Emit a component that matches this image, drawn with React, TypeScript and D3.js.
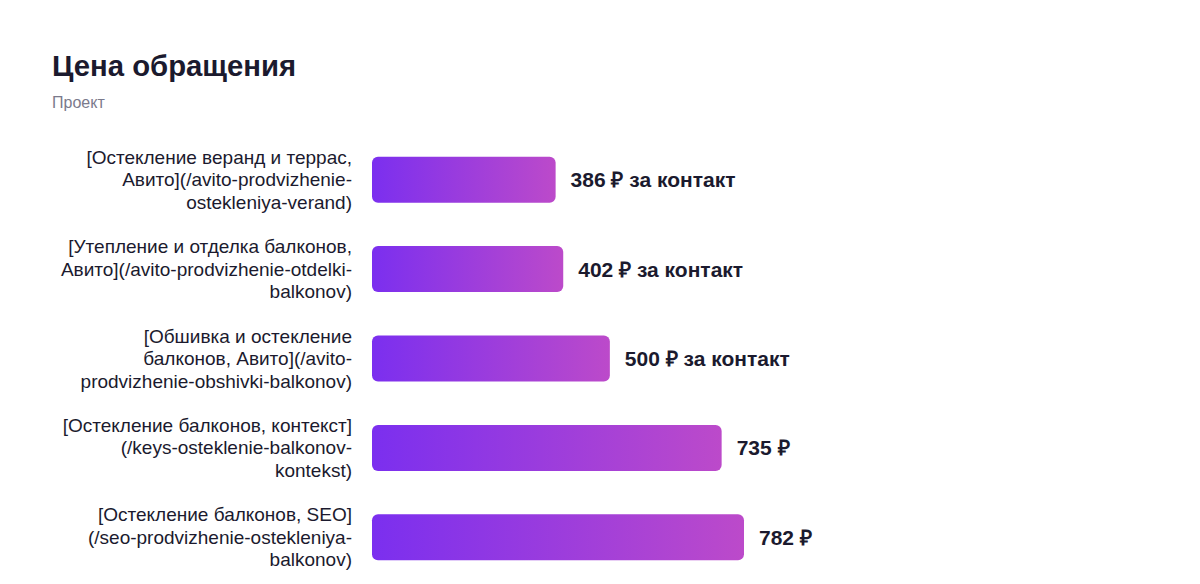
import React from "react";
import * as d3 from "d3";

const titleText = "Цена обращения";
const subtitleText = "Проект";

const categoryLines: string[][] = [
  ["[Остекление веранд и террас,", "Авито](/avito-prodvizhenie-", "ostekleniya-verand)"],
  ["[Утепление и отделка балконов,", "Авито](/avito-prodvizhenie-otdelki-", "balkonov)"],
  ["[Обшивка и остекление", "балконов, Авито](/avito-", "prodvizhenie-obshivki-balkonov)"],
  ["[Остекление балконов, контекст]", "(/keys-osteklenie-balkonov-", "kontekst)"],
  ["[Остекление балконов, SEO]", "(/seo-prodvizhenie-ostekleniya-", "balkonov)"],
];
const values: number[] = [386, 402, 500, 735, 782];
const valueSuffixes: string[] = [" ₽ за контакт", " ₽ за контакт", " ₽ за контакт", " ₽", " ₽"];

const W = 1200;
const H = 584;
const FONT = "'Liberation Sans', Arial, Helvetica, sans-serif";

export default function App() {
  const ids = values.map((_, i) => i);
  const x = d3.scaleLinear().domain([0, d3.max(values) as number]).range([372, 744]);
  const y = d3
    .scaleBand<number>()
    .domain(ids)
    .range([135, 582])
    .paddingInner(0.485)
    .paddingOuter(0.2425);
  const bw = y.bandwidth();

  return (
    <svg
      width={W}
      height={H}
      style={{ position: "absolute", left: 0, top: 0, background: "#fff" }}
      fontFamily={FONT}
    >
      <defs>
        <linearGradient id="barGrad" x1="0" y1="0" x2="1" y2="0">
          <stop offset="0%" stopColor="#7B2FEF" />
          <stop offset="100%" stopColor="#BC4ACA" />
        </linearGradient>
      </defs>
      <rect x={0} y={0} width={W} height={H} fill="#fff" />
      <text x={52} y={76} fontSize={29.3} fontWeight={700} fill="#1b1a2e">
        {titleText}
      </text>
      <text x={52} y={108} fontSize={16} fill="#7b7a8c">
        {subtitleText}
      </text>
      {ids.map((i) => {
        const top = y(i) as number;
        const cy = top + bw / 2;
        const lines = categoryLines[i];
        const lh = 22.5;
        const startY = cy - ((lines.length - 1) * lh) / 2;
        return (
          <g key={i}>
            <text x={352} textAnchor="end" fontSize={19} fill="#1b1a2e">
              {lines.map((ln, k) => (
                <tspan key={k} x={352} y={startY + k * lh} dominantBaseline="central">
                  {ln}
                </tspan>
              ))}
            </text>
            <rect
              x={x(0)}
              y={top}
              width={x(values[i]) - x(0)}
              height={bw}
              rx={6}
              ry={6}
              fill="url(#barGrad)"
            />
            <text
              x={x(values[i]) + 15}
              y={cy}
              dominantBaseline="central"
              fontSize={21}
              fontWeight={700}
              fill="#1b1a2e"
            >
              {values[i] + valueSuffixes[i]}
            </text>
          </g>
        );
      })}
    </svg>
  );
}
